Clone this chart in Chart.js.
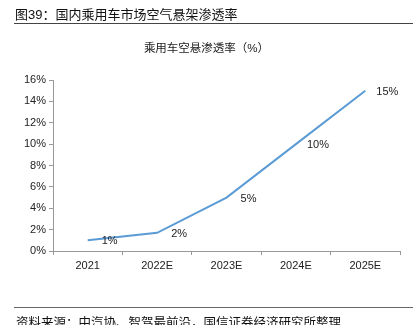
<!DOCTYPE html>
<html>
<head>
<meta charset="utf-8">
<script src="https://cdn.jsdelivr.net/npm/chart.js@4"></script>
<style>
  body { margin: 0; background: #fff; }
  #wrap { position: relative; width: 413px; height: 325px; overflow: hidden; font-family: "Liberation Sans", "Noto Sans CJK SC", sans-serif; }
  #head { position: absolute; left: 15px; top: 4px; font-size: 13px; color: #111; white-space: nowrap; }
  #headLine { position: absolute; left: 14px; right: 0; top: 23px; border-top: 1px solid #444; }
  #sub { position: absolute; left: 0; width: 413px; top: 39px; text-align: center; font-size: 11.5px; color: #222; }
  #footLine { position: absolute; left: 14px; right: 0; top: 307px; border-top: 1px solid #666; }
  #foot { position: absolute; left: 16px; top: 312px; font-size: 12.5px; color: #111; white-space: nowrap; }
  canvas { position: absolute; left: 0; top: 0; }
</style>
</head>
<body>
<div id="wrap">
  <canvas id="chart" width="413" height="325"></canvas>
  <div id="head">图39：国内乘用车市场空气悬架渗透率</div>
  <div id="headLine"></div>
  <div id="sub">乘用车空悬渗透率（%）</div>
  <div id="footLine"></div>
  <div id="foot">资料来源：中汽协、智驾最前沿，国信证券经济研究所整理</div>
</div>
<script>
const years = ['2021', '2022E', '2023E', '2024E', '2025E'];
const penetration = [1.0, 1.7, 5.0, 10.0, 15.0];
const pointLabels = ['1%', '2%', '5%', '10%', '15%'];

// labels sit to the right of each point
const valueLabels = {
    id: 'valueLabels',
    afterDatasetsDraw(chart) {
        const ctx = chart.ctx;
        const meta = chart.getDatasetMeta(0);
        ctx.save();
        ctx.font = '11px "Liberation Sans", Arial, sans-serif';
        ctx.fillStyle = '#222';
        ctx.textAlign = 'center';
        ctx.textBaseline = 'middle';
        meta.data.forEach((pt, i) => {
            ctx.fillText(pointLabels[i], pt.x + 22, pt.y + 1);
        });
        ctx.restore();
    }
};

new Chart(document.getElementById('chart'), {
    type: 'line',
    data: {
        labels: years,
        datasets: [{
            data: penetration,
            borderColor: '#5B9BD5',
            borderWidth: 2,
            pointRadius: 0,
            tension: 0,
            fill: false
        }]
    },
    options: {
        responsive: false,
        animation: false,
        layout: { padding: { top: 80, right: 13, bottom: 52, left: 0 } },
        plugins: {
            legend: { display: false },
            title: { display: false },
            tooltip: { enabled: false }
        },
        scales: {
            x: {
                offset: true,
                grid: {
                    offset: true,
                    drawOnChartArea: false,
                    drawTicks: true,
                    tickLength: 4,
                    color: '#999'
                },
                border: { color: '#999', width: 1 },
                ticks: {
                    color: '#222',
                    font: { family: '"Liberation Sans", Arial, sans-serif', size: 11 },
                    padding: 4,
                    maxRotation: 0
                },
                afterFit(scale) { scale.height = 22; }
            },
            y: {
                min: 0,
                max: 16,
                grid: {
                    drawOnChartArea: false,
                    drawTicks: true,
                    tickLength: 4,
                    color: '#999'
                },
                border: { color: '#999', width: 1 },
                ticks: {
                    stepSize: 2,
                    color: '#222',
                    font: { family: '"Liberation Sans", Arial, sans-serif', size: 11 },
                    padding: 3,
                    callback: v => v + '%'
                },
                afterFit(scale) { scale.width = 53; }
            }
        }
    },
    plugins: [valueLabels]
});
</script>
</body>
</html>
